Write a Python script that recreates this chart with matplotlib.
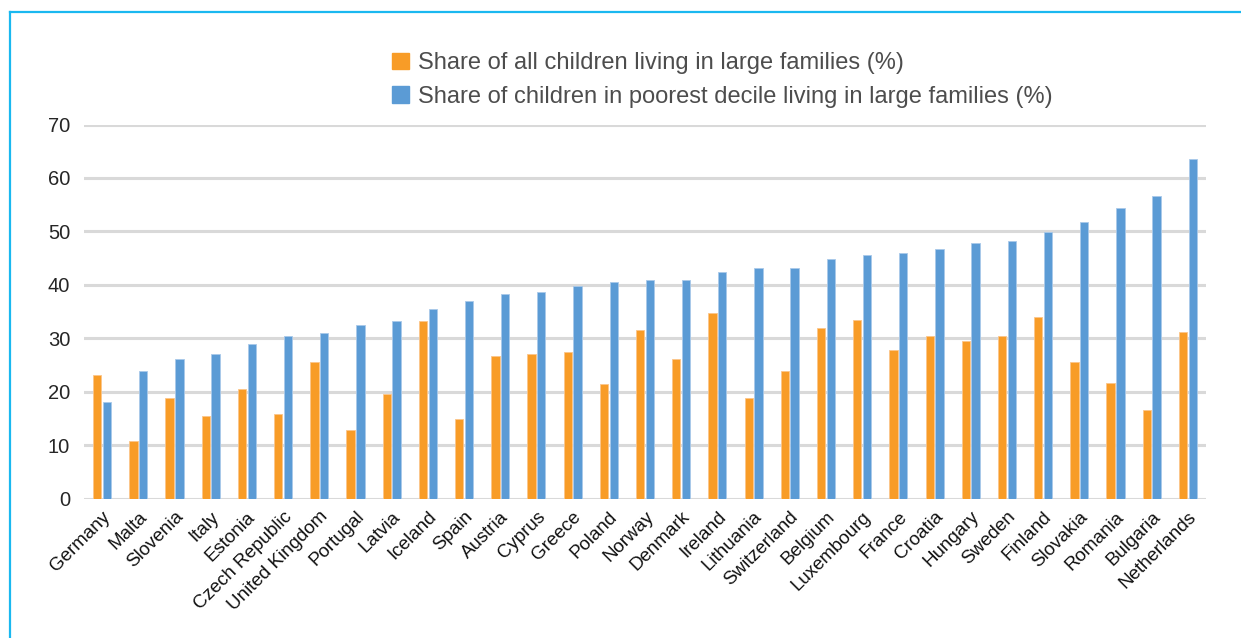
import numpy as np
import matplotlib.pyplot as plt
from matplotlib.lines import Line2D

countries = ["Germany", "Malta", "Slovenia", "Italy", "Estonia", "Czech Republic",
             "United Kingdom", "Portugal", "Latvia", "Iceland", "Spain", "Austria",
             "Cyprus", "Greece", "Poland", "Norway", "Denmark", "Ireland", "Lithuania",
             "Switzerland", "Belgium", "Luxembourg", "France", "Croatia", "Hungary",
             "Sweden", "Finland", "Slovakia", "Romania", "Bulgaria", "Netherlands"]
all_children = [23.1, 10.8, 18.9, 15.5, 20.5, 15.8, 25.5, 12.8, 19.6, 33.2,
                14.9, 26.6, 27.0, 27.4, 21.5, 31.6, 26.2, 34.7, 18.8, 23.9,
                32.0, 33.5, 27.8, 30.5, 29.4, 30.5, 33.9, 25.5, 21.6, 16.6, 31.2]
poorest_decile = [18.1, 23.9, 26.2, 27.0, 29.0, 30.5, 30.9, 32.4, 33.2, 35.5,
                  37.0, 38.2, 38.6, 39.7, 40.5, 40.9, 40.9, 42.4, 43.2, 43.2,
                  44.8, 45.5, 45.9, 46.7, 47.8, 48.2, 49.8, 51.7, 54.4, 56.7, 63.6]
yticks = [0, 10, 20, 30, 40, 50, 60, 70]

label_all = "Share of all children living in large families (%)"
label_poor = "Share of children in poorest decile living in large families (%)"

orange = "#F89C27"
blue = "#5B9BD5"
grid = "#D9D9D9"
text = "#262626"

plt.rcParams["font.family"] = ["Liberation Sans", "DejaVu Sans"]

W, H = 1241, 638
fig = plt.figure(figsize=(W / 100, H / 100), dpi=100)
ax = fig.add_axes([84 / W, 1 - 498.5 / H, (1206 - 84) / W, (498.5 - 124.5) / H])

x = np.arange(len(countries))
bw = 0.23
ax.bar(x - 0.135, all_children, width=bw, color=orange, edgecolor="#FBC58A",
       linewidth=0.6, zorder=3)
ax.bar(x + 0.135, poorest_decile, width=bw, color=blue, edgecolor="#A9C9EA",
       linewidth=0.6, zorder=3)

ax.set_ylim(0, 70)
ax.set_xlim(-0.5, len(countries) - 0.5)
ax.set_yticks(yticks)
ax.yaxis.grid(True, color=grid, linewidth=2.2, zorder=0)
ax.set_axisbelow(True)
for s in ["top", "right", "left", "bottom"]:
    ax.spines[s].set_visible(False)
ax.tick_params(axis="y", length=0, pad=10, labelsize=14.5, labelcolor=text)
ax.tick_params(axis="x", length=0, pad=7, labelsize=13.5, labelcolor="#111111")
ax.set_xticks(x)
ax.set_xticklabels(countries, rotation=45, ha="right", rotation_mode="anchor")

# legend, two rows stacked above the plot
handles = [plt.Rectangle((0, 0), 1, 1, color=orange),
           plt.Rectangle((0, 0), 1, 1, color=blue)]
fig.legend(handles, [label_all, label_poor], loc="upper left",
           bbox_to_anchor=(371 / W, 1 - 31 / H), frameon=False,
           fontsize=17, labelcolor="#4D4D4D", handlelength=0.72,
           handleheight=0.72, handletextpad=0.38, labelspacing=0.5)

# cyan frame edges
fig.add_artist(Line2D([10 / W, 10 / W], [0, 1 - 12 / H], color="#1AB8F0",
                      linewidth=1.6, transform=fig.transFigure))
fig.add_artist(Line2D([10 / W, 1], [1 - 12 / H, 1 - 12 / H], color="#1AB8F0",
                      linewidth=1.6, transform=fig.transFigure))

fig.savefig("out.png", dpi=100)
